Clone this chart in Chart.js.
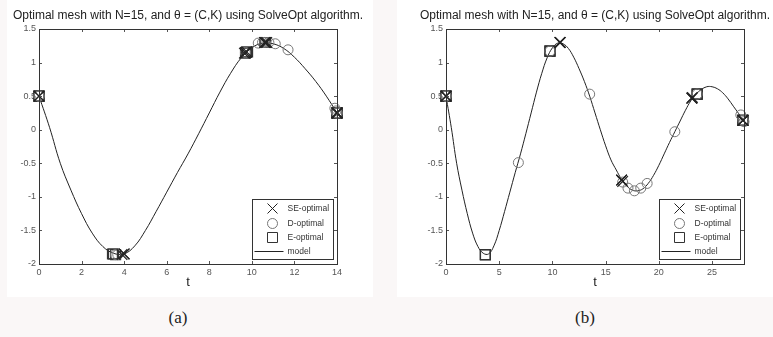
<!DOCTYPE html>
<html>
<head>
<meta charset="utf-8">
<script src="https://cdn.jsdelivr.net/npm/chart.js@4.4.1/dist/chart.umd.min.js"></script>
<style>
    body { margin: 0; width: 773px; height: 337px; background: #faf7f7; position: relative; overflow: hidden; }
    .panel { position: absolute; top: 0; height: 297px; background: #fff; }
    #panelA { left: 7px; width: 366px; }
    #panelB { left: 397px; width: 376px; }
    canvas { position: absolute; top: 0; }
    #grafikA { left: 0; }
    #grafikB { left: 386px; }
    .sub { position: absolute; top: 308px; font-family: "Liberation Serif", "DejaVu Serif", serif; font-size: 17px; color: #222; transform: translateX(-50%); }
</style>
</head>
<body>
<div class="panel" id="panelA"></div>
<div class="panel" id="panelB"></div>
<canvas id="grafikA" width="386" height="300"></canvas>
<canvas id="grafikB" width="387" height="300"></canvas>
<div class="sub" style="left:178px">(a)</div>
<div class="sub" style="left:585px">(b)</div>
<script>
/* Optimal mesh N=15 — dua panel, kurva model + titik optimal */

// ── Data ──────────────────────────────────────────────────────
const judul = 'Optimal mesh with N=15, and \u03b8 = (C,K) using SolveOpt algorithm.';
const tickY = [-2, -1.5, -1, -0.5, 0, 0.5, 1, 1.5];
const tickXA = [0, 2, 4, 6, 8, 10, 12, 14];
const tickXB = [0, 5, 10, 15, 20, 25];

const modelT = [0, 0.5, 1, 1.5, 2, 2.5, 3, 3.5, 4, 4.5, 5, 5.5, 6, 6.5, 7, 7.5, 8, 8.5, 9, 9.5,
    10, 10.5, 11, 11.5, 12, 12.5, 13, 13.5, 14, 14.5, 15, 15.5, 16, 16.5, 17, 17.5, 18, 18.5, 19, 19.5,
    20, 20.5, 21, 21.5, 22, 22.5, 23, 23.5, 24, 24.5, 25, 25.5, 26, 26.5, 27, 27.5, 28];
const modelY = [0.50, 0.03, -0.50, -0.90, -1.25, -1.54, -1.74, -1.84, -1.85, -1.73, -1.50, -1.22, -0.93, -0.64, -0.36, -0.06, 0.25, 0.56, 0.84, 1.07,
    1.22, 1.29, 1.28, 1.21, 1.08, 0.91, 0.72, 0.50, 0.25, 0.00, -0.24, -0.45, -0.60, -0.74, -0.84, -0.90, -0.91, -0.88, -0.80, -0.68,
    -0.53, -0.36, -0.19, -0.03, 0.13, 0.29, 0.43, 0.53, 0.60, 0.64, 0.64, 0.61, 0.55, 0.46, 0.35, 0.24, 0.13];

// panel (a)
const seTA = [0, 0, 3.9, 4.0, 4.0, 9.65, 9.7, 9.75, 10.6, 10.65, 10.7, 14, 14, 14, 14];
const seYA = [0.5, 0.5, -1.86, -1.85, -1.85, 1.14, 1.15, 1.16, 1.3, 1.3, 1.3, 0.25, 0.25, 0.25, 0.25];
const dTA = [0, 0, 3.6, 3.7, 9.7, 10.3, 10.5, 10.6, 10.8, 11.1, 11.7, 13.9, 13.95, 14, 14];
const dYA = [0.5, 0.5, -1.86, -1.86, 1.15, 1.29, 1.3, 1.3, 1.3, 1.28, 1.19, 0.32, 0.28, 0.25, 0.25];
const eTA = [0, 0, 0, 3.45, 3.5, 3.6, 9.7, 9.75, 9.8, 10.6, 10.65, 14, 14, 14, 14];
const eYA = [0.5, 0.5, 0.5, -1.85, -1.85, -1.86, 1.14, 1.15, 1.16, 1.3, 1.3, 0.25, 0.25, 0.25, 0.25];

// panel (b)
const seTB = [0, 0, 0, 10.7, 10.7, 10.75, 16.5, 16.5, 16.6, 23.1, 23.1, 23.15, 27.9, 27.9, 27.9];
const seYB = [0.5, 0.5, 0.5, 1.3, 1.3, 1.3, -0.75, -0.75, -0.77, 0.47, 0.47, 0.48, 0.14, 0.14, 0.14];
const dTB = [0, 0, 6.8, 9.77, 13.5, 16.6, 17.1, 17.7, 18.3, 18.9, 21.5, 23.6, 27.7, 27.9, 28];
const dYB = [0.5, 0.5, -0.49, 1.17, 0.53, -0.78, -0.87, -0.91, -0.87, -0.80, -0.03, 0.53, 0.22, 0.14, 0.12];
const eTB = [0, 0, 0, 3.7, 3.7, 3.7, 9.77, 9.77, 9.77, 23.6, 23.6, 23.6, 27.9, 27.9, 27.9];
const eYB = [0.5, 0.5, 0.5, -1.86, -1.86, -1.86, 1.17, 1.17, 1.17, 0.53, 0.53, 0.53, 0.14, 0.14, 0.14];

const FONT = '"Liberation Sans", Arial, sans-serif';

function gabung(xs, ys) { return xs.map(function (x, i) { return { x: x, y: ys[i] }; }); }

// ── Plugin: judul, kotak sumbu, tick ke dalam ─────────────────
const bingkai = {
    id: 'bingkai',
    afterDraw: function (chart) {
        const c = chart.ctx, a = chart.chartArea;
        c.save();
        c.fillStyle = '#222';
        c.font = '12px ' + FONT;
        c.textAlign = 'center'; c.textBaseline = 'middle';
        c.fillText(judul, (a.left + a.right) / 2, 16);

        c.strokeStyle = '#555'; c.lineWidth = 1;
        chart.scales.x.ticks.forEach(function (t) {
            const px = Math.round(chart.scales.x.getPixelForValue(t.value)) + 0.5;
            c.beginPath();
            c.moveTo(px, a.bottom); c.lineTo(px, a.bottom - 3);
            c.moveTo(px, a.top); c.lineTo(px, a.top + 3);
            c.stroke();
        });
        chart.scales.y.ticks.forEach(function (t) {
            const py = Math.round(chart.scales.y.getPixelForValue(t.value)) + 0.5;
            c.beginPath();
            c.moveTo(a.left, py); c.lineTo(a.left + 3, py);
            c.moveTo(a.right, py); c.lineTo(a.right - 3, py);
            c.stroke();
        });
        c.strokeStyle = '#333';
        c.strokeRect(Math.round(a.left) + 0.5, Math.round(a.top) + 0.5, Math.round(a.right - a.left), Math.round(a.bottom - a.top));
        c.restore();
    }
};

// ── Plugin: legenda di pojok kanan bawah ──────────────────────
const legenda = {
    id: 'legenda',
    afterDraw: function (chart) {
        const c = chart.ctx, a = chart.chartArea;
        const w = 81, h = 60;
        const x0 = Math.round(a.right - 4 - w) + 0.5, y0 = Math.round(a.bottom - 5 - h) + 0.5;
        c.save();
        c.fillStyle = '#fff'; c.strokeStyle = '#333'; c.lineWidth = 1;
        c.fillRect(x0, y0, w, h); c.strokeRect(x0, y0, w, h);
        const baris = [9, 24, 38, 52];
        const mx = x0 + 20;
        c.font = '8.5px ' + FONT; c.textBaseline = 'middle'; c.textAlign = 'left';
        chart.data.datasets.forEach(function (ds, i) {
            const y = y0 + baris[i];
            c.strokeStyle = ds.pointBorderColor || ds.borderColor;
            c.lineWidth = 1;
            c.beginPath();
            if (ds.pointStyle === 'crossRot') {
                c.moveTo(mx - 5, y - 5); c.lineTo(mx + 5, y + 5);
                c.moveTo(mx + 5, y - 5); c.lineTo(mx - 5, y + 5);
            } else if (ds.pointStyle === 'circle') {
                c.arc(mx, y, 5, 0, Math.PI * 2);
            } else if (ds.pointStyle === 'rect') {
                c.rect(mx - 5, y - 5, 10, 10);
            } else {
                c.moveTo(x0 + 2, y); c.lineTo(x0 + 31, y);
            }
            c.stroke();
            c.fillStyle = '#333';
            c.fillText(ds.label, x0 + 35, y);
        });
        c.restore();
    }
};

// ── Pembuat grafik ────────────────────────────────────────────
function buatGrafik(id, cfg) {
    const model = gabung(modelT, modelY).filter(function (p) { return p.x <= cfg.xMax; });
    return new Chart(document.getElementById(id).getContext('2d'), {
        type: 'scatter',
        data: {
            datasets: [{
                label: 'SE-optimal', data: gabung(cfg.se[0], cfg.se[1]), pointStyle: 'crossRot',
                pointRadius: 7.5, pointBorderColor: '#222', pointBorderWidth: 1.2, pointBackgroundColor: 'rgba(0,0,0,0)', clip: false
            }, {
                label: 'D-optimal', data: gabung(cfg.d[0], cfg.d[1]), pointStyle: 'circle',
                pointRadius: 5, pointBorderColor: '#777', pointBorderWidth: 1, pointBackgroundColor: 'rgba(0,0,0,0)', clip: false
            }, {
                label: 'E-optimal', data: gabung(cfg.e[0], cfg.e[1]), pointStyle: 'rect',
                pointRadius: 7, pointBorderColor: '#333', pointBorderWidth: 1.2, pointBackgroundColor: 'rgba(0,0,0,0)', clip: false
            }, {
                label: 'model', data: model, showLine: true, pointRadius: 0,
                borderColor: '#222', borderWidth: 1, tension: 0.4, clip: false
            }]
        },
        options: {
            responsive: false, animation: false,
            layout: { padding: cfg.padding },
            plugins: { legend: { display: false }, tooltip: { enabled: false } },
            scales: {
                x: {
                    type: 'linear', min: 0, max: cfg.xMax,
                    grid: { display: false, drawTicks: false }, border: { display: false },
                    afterBuildTicks: function (s) { s.ticks = cfg.xTicks.map(function (v) { return { value: v }; }); },
                    afterFit: function (s) { s.height = 28; },
                    ticks: { padding: 3, color: '#555', font: { size: 9, family: FONT }, maxRotation: 0, autoSkip: false,
                             callback: function (v) { return String(v); } },
                    title: { display: true, text: 't', color: '#222', font: { size: 13, family: FONT }, padding: { top: 0, bottom: 2 } }
                },
                y: {
                    type: 'linear', min: -2, max: 1.5,
                    grid: { display: false, drawTicks: false }, border: { display: false },
                    afterBuildTicks: function (s) { s.ticks = tickY.map(function (v) { return { value: v }; }); },
                    afterFit: function (s) { s.width = 39; },
                    ticks: { padding: 3, color: '#555', font: { size: 9, family: FONT }, autoSkip: false,
                             callback: function (v) { return String(v); } }
                }
            }
        },
        plugins: [bingkai, legenda]
    });
}

document.addEventListener('DOMContentLoaded', function () {
    buatGrafik('grafikA', {
        xMax: 14, xTicks: tickXA, padding: { left: 0, right: 49, top: 29, bottom: 8 },
        se: [seTA, seYA], d: [dTA, dYA], e: [eTA, eYA]
    });
    buatGrafik('grafikB', {
        xMax: 28, xTicks: tickXB, padding: { left: 21, right: 29, top: 29, bottom: 8 },
        se: [seTB, seYB], d: [dTB, dYB], e: [eTB, eYB]
    });
});
</script>
</body>
</html>
